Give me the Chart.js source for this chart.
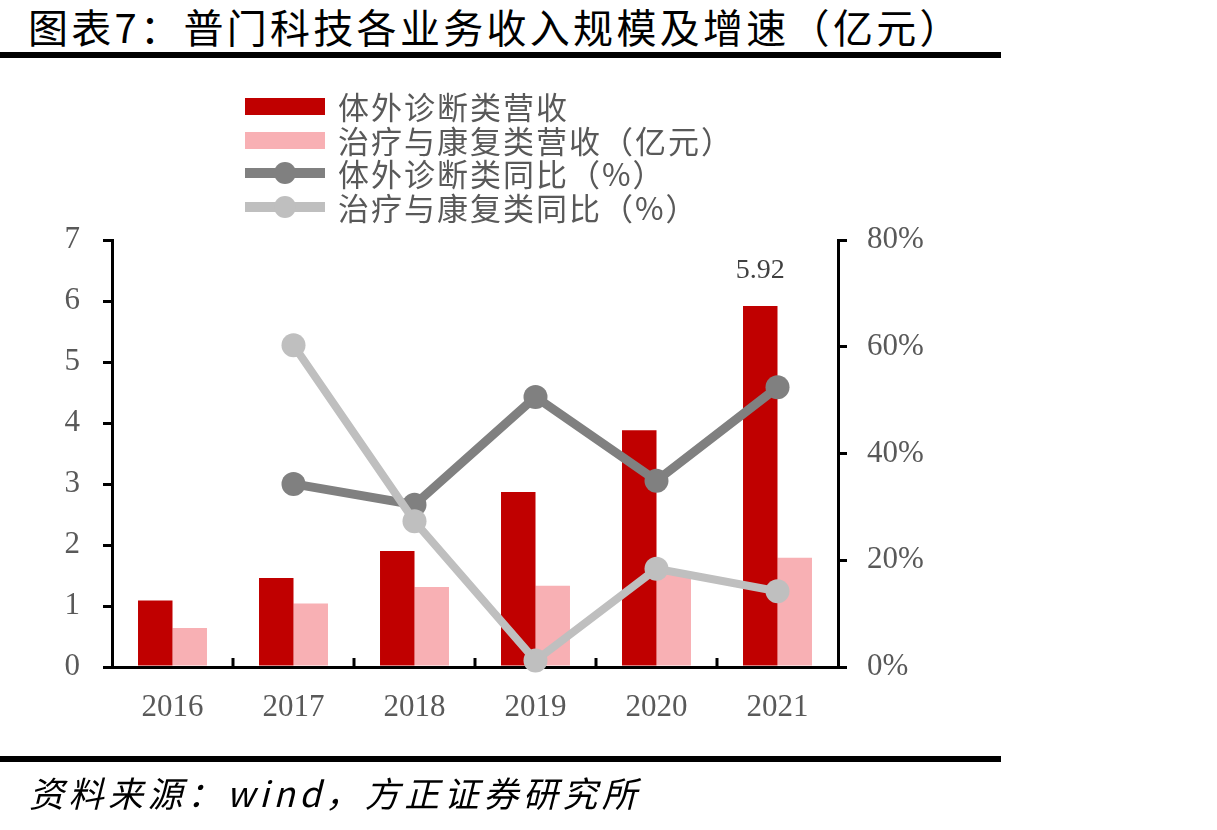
<!DOCTYPE html>
<html>
<head>
<meta charset="utf-8">
<script src="https://cdn.jsdelivr.net/npm/chart.js@4.4.0/dist/chart.umd.min.js"></script>
<style>
  body { margin: 0; background: #fff; }
  #wrap { position: relative; width: 1217px; height: 830px; overflow: hidden; }
  #title { position: absolute; left: 28px; top: -3px; font: 40px "Noto Sans CJK SC", sans-serif; letter-spacing: 3.3px; color: #000; white-space: nowrap; }
  .rule { position: absolute; left: 0; width: 1001px; height: 6px; background: #000; }
  #source { position: absolute; left: 29px; top: 766px; font: italic 35px "Noto Sans CJK SC", sans-serif; letter-spacing: 4.5px; color: #000; white-space: nowrap; }
  canvas { position: absolute; left: 0; top: 0; }
</style>
</head>
<body>
<div id="wrap">
  <div id="title">图表7：普门科技各业务收入规模及增速（亿元）</div>
  <div class="rule" style="top:52px"></div>
  <canvas id="chart" width="1217" height="830"></canvas>
  <div class="rule" style="top:756px"></div>
  <div id="source">资料来源：wind，方正证券研究所</div>
</div>
<script>
const years = ['2016', '2017', '2018', '2019', '2020', '2021'];
const ivdRevenue = [1.09, 1.46, 1.90, 2.87, 3.88, 5.92];
const rehabRevenue = [0.64, 1.04, 1.31, 1.33, 1.56, 1.79];
const ivdGrowth = [null, 34.3, 30.4, 50.6, 34.9, 52.4];
const rehabGrowth = [null, 60.3, 27.3, 1.2, 18.4, 14.2];
const leftMax = 7;
const rightMax = 80;

const tickFont = { family: '"Liberation Serif", "Times New Roman", serif', size: 31 };
const tickColor = '#595959';

// little tick marks between categories, pointing up into the plot
const innerTicks = {
  id: 'innerTicks',
  afterDraw(chart) {
    const x = chart.scales.x;
    const ctx = chart.ctx;
    ctx.save();
    ctx.strokeStyle = '#000';
    ctx.lineWidth = 3;
    for (let i = 1; i < years.length; i++) {
      const px = (x.getPixelForValue(i - 1) + x.getPixelForValue(i)) / 2;
      ctx.beginPath();
      ctx.moveTo(px, x.top);
      ctx.lineTo(px, x.top - 9);
      ctx.stroke();
    }
    ctx.restore();
  }
};

// value label over the last red bar
const lastLabel = {
  id: 'lastLabel',
  afterDatasetsDraw(chart) {
    const meta = chart.getDatasetMeta(2);
    const i = ivdRevenue.length - 1;
    const bar = meta.data[i];
    const ctx = chart.ctx;
    ctx.save();
    ctx.font = '28px "Liberation Serif", serif';
    ctx.fillStyle = '#404040';
    ctx.textAlign = 'center';
    ctx.textBaseline = 'middle';
    ctx.fillText(ivdRevenue[i].toFixed(2), bar.x, bar.y - 35);
    ctx.restore();
  }
};

// legend stacked in one column
const stackedLegend = {
  id: 'stackedLegend',
  afterDraw(chart) {
    const ctx = chart.ctx;
    const order = [2, 3, 1, 0];
    const rows = [106, 140, 173, 207];
    ctx.save();
    ctx.font = '31px "Noto Sans CJK SC", sans-serif';
    ctx.letterSpacing = '2px';
    ctx.textBaseline = 'middle';
    order.forEach((di, r) => {
      const ds = chart.data.datasets[di];
      const y = rows[r];
      if (ds.type === 'line') {
        ctx.strokeStyle = ds.borderColor;
        ctx.lineWidth = 10;
        ctx.beginPath();
        ctx.moveTo(245, y);
        ctx.lineTo(325, y);
        ctx.stroke();
        ctx.fillStyle = ds.borderColor;
        ctx.beginPath();
        ctx.arc(285, y, 11, 0, Math.PI * 2);
        ctx.fill();
      } else {
        ctx.fillStyle = ds.backgroundColor;
        ctx.fillRect(245, y - 8, 80, 17);
      }
      ctx.fillStyle = tickColor;
      ctx.fillText(ds.label, 338, y + 1);
    });
    ctx.restore();
  }
};

new Chart(document.getElementById('chart'), {
  data: {
    labels: years,
    datasets: [
      {
        type: 'line',
        label: '治疗与康复类同比（%）',
        data: rehabGrowth,
        yAxisID: 'y1',
        borderColor: '#BFBFBF',
        backgroundColor: '#BFBFBF',
        borderWidth: 8,
        pointRadius: 12,
        pointHoverRadius: 12,
        pointBorderWidth: 0,
        tension: 0,
        clip: false,
        order: 0
      },
      {
        type: 'line',
        label: '体外诊断类同比（%）',
        data: ivdGrowth,
        yAxisID: 'y1',
        borderColor: '#808080',
        backgroundColor: '#808080',
        borderWidth: 9,
        pointRadius: 12,
        pointHoverRadius: 12,
        pointBorderWidth: 0,
        tension: 0,
        clip: false,
        order: 1
      },
      {
        type: 'bar',
        label: '体外诊断类营收',
        data: ivdRevenue,
        yAxisID: 'y',
        backgroundColor: '#C00000',
        barPercentage: 1,
        categoryPercentage: 0.57,
        order: 2
      },
      {
        type: 'bar',
        label: '治疗与康复类营收（亿元）',
        data: rehabRevenue,
        yAxisID: 'y',
        backgroundColor: '#F8B0B4',
        barPercentage: 1,
        categoryPercentage: 0.57,
        order: 3
      }
    ]
  },
  options: {
    responsive: false,
    animation: false,
    layout: { padding: { top: 240, left: 0, right: 0, bottom: 0 } },
    plugins: {
      legend: { display: false },
      tooltip: { enabled: false }
    },
    scales: {
      x: {
        grid: { display: false },
        border: { display: true, color: '#000', width: 3 },
        ticks: { font: tickFont, color: tickColor, padding: 14 },
        afterFit(s) { s.height = 163; }
      },
      y: {
        position: 'left',
        min: 0,
        max: leftMax,
        grid: { drawOnChartArea: false, tickLength: 9, color: '#000', lineWidth: 3 },
        border: { color: '#000', width: 3 },
        ticks: { stepSize: 1, font: tickFont, color: tickColor, padding: 23 },
        afterFit(s) { s.width = 112; }
      },
      y1: {
        position: 'right',
        min: 0,
        max: rightMax,
        grid: { drawOnChartArea: false, tickLength: 9, color: '#000', lineWidth: 3 },
        border: { color: '#000', width: 3 },
        ticks: { stepSize: 20, font: tickFont, color: tickColor, padding: 20, callback: v => v + '%' },
        afterFit(s) { s.width = 379; }
      }
    }
  },
  plugins: [innerTicks, lastLabel, stackedLegend]
});
</script>
</body>
</html>
